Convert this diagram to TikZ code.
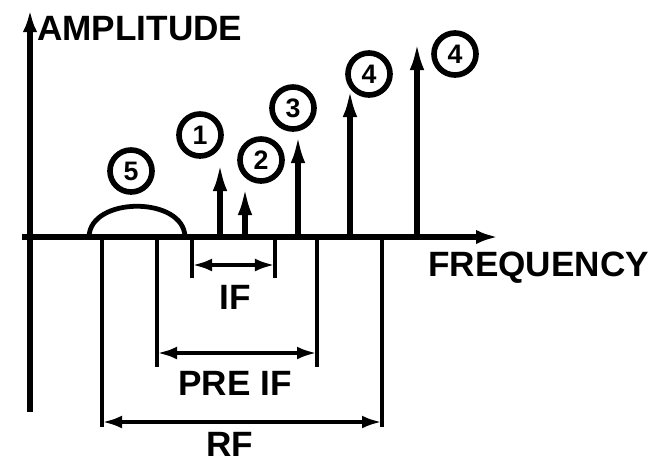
\documentclass[tikz,border=0pt]{standalone}
\usepackage{fontspec}
\setsansfont{Liberation Sans}
\usetikzlibrary{arrows.meta}

\begin{document}
\begin{tikzpicture}[x=0.025cm, y=-0.025cm,
      font=\sffamily\bfseries,
      axis/.style={line width=4pt, -{Latex[length=5.5mm,width=3.6mm]}},
      spike/.style={line width=3.6pt, -{Latex[length=7mm,width=3.6mm]}},
      leg/.style={line width=3.4pt},
      dim/.style={line width=3.4pt,
          {Latex[length=5mm,width=3.2mm]}-{Latex[length=5mm,width=3.2mm]}},
      lbl/.style={font=\sffamily\bfseries\fontsize{25}{29}\selectfont, inner sep=0pt},
      num/.style={circle, draw, line width=4pt, minimum size=1.05cm,
          inner sep=0pt, font=\sffamily\bfseries\fontsize{19}{21}\selectfont}
  ]
  \useasboundingbox (0,0) rectangle (656,463);

  % axes
  \coordinate (ybot) at (30,412);
  \coordinate (ytop) at (30,10);
  \coordinate (xleft) at (22,237);
  \coordinate (xright) at (498,237);
  \draw[axis] (ybot) -- (ytop);
  \draw[axis] (xleft) -- (xright);
  \node[lbl, anchor=base west] (amp) at (37,40) {AMPLITUDE};
  \node[lbl, anchor=base west] (freq) at (428,276) {FREQUENCY};

  % signal spikes
  \foreach \x/\y/\name in {220/163/s1, 245/187/s2, 298/135/s3, 350/89/s4, 417/42/s5}{
      \coordinate (\name b) at (\x,237);
      \coordinate (\name t) at (\x,\y);
      \draw[spike] (\name b) -- (\name t);
  }

  % broadband hump
  \coordinate (humpL) at (89,237);
  \coordinate (humpR) at (185,237);
  \draw[leg] (humpL) .. controls (90,196) and (184,196) .. (humpR);

  % numbered markers
  \node[num] (n1) at (200,135) {1};
  \node[num] (n2) at (261,160) {2};
  \node[num] (n3) at (293,108) {3};
  \node[num] (n4a) at (369,74) {4};
  \node[num] (n4b) at (455,54) {4};
  \node[num] (n5) at (131,171) {5};

  % bandwidth brackets
  \foreach \l/\r/\b/\d/\name in {192/275/278/265/if, 157/317/367/353/pre, 102/382/427/422/rf}{
      \coordinate (\name LT) at (\l,237);
      \coordinate (\name LB) at (\l,\b);
      \coordinate (\name RT) at (\r,237);
      \coordinate (\name RB) at (\r,\b);
      \coordinate (\name DL) at (\l,\d);
      \coordinate (\name DR) at (\r,\d);
      \draw[leg] (\name LT) -- (\name LB);
      \draw[leg] (\name RT) -- (\name RB);
      \draw[dim] (\name DL) -- (\name DR);
  }
  \node[lbl] (iflbl) at (235,297) {IF};
  \node[lbl] (prelbl) at (235,383) {PRE IF};
  \node[lbl] (rflbl) at (230,444) {RF};
\end{tikzpicture}
\end{document}
